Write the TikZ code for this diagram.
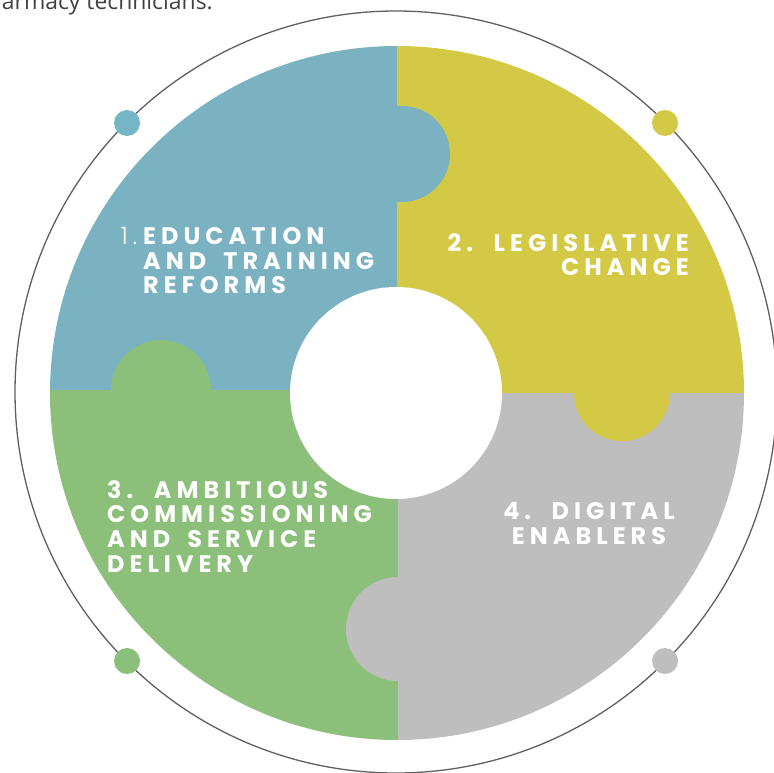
\documentclass[tikz,border=0pt]{standalone}
\usepackage{fontspec}
\usepackage{tikz}
\setmainfont{Open Sans}
\newfontfamily\puzzlefont[LetterSpace=21, WordSpace=1.7]{Poppins}
\newfontfamily\thinfont[LetterSpace=21]{Poppins Light}

\definecolor{pblue}{RGB}{122,178,194}
\definecolor{pyellow}{RGB}{212,201,68}
\definecolor{pgreen}{RGB}{140,192,122}
\definecolor{pgray}{RGB}{190,190,190}
\definecolor{ringgray}{RGB}{95,95,95}

\tikzset{
	piece/.style={font=\puzzlefont\bfseries\fontsize{24}{24.8}\selectfont, text=white, inner sep=0pt},
	dot/.style={radius=13}
}

\begin{document}
\begin{tikzpicture}[x=1bp,y=-1bp]
\useasboundingbox (0,0) rectangle (773,773);
		\coordinate (O) at (397,393);
		\coordinate (P) at (396,392);
		\coordinate (H) at (396,393);
		\coordinate (A) at (143,227);
		\coordinate (B) at (689,233);
		\coordinate (C) at (107,480);
		\coordinate (D) at (589,502);
		\coordinate (T) at (213,10);
		% the four pieces, cut to the disc
		\begin{scope}
		\clip (O) circle (347);
		\fill[pblue] (0,0) rectangle (397,390);
		\fill[pyellow] (397,0) rectangle (773,393);
		\fill[pgreen] (0,390) rectangle (398,773);
		\fill[pgray] (398,393) rectangle (773,773);
		% tabs
		\fill[pblue] (402,154) circle (48);
		\fill[pgreen] (161,390) circle (50);
		\fill[pyellow] (622,393) circle (48);
		\fill[pgray] (398,629) circle (52);
		\end{scope}
		\fill[white] (H) circle (106);
		% ring and its dots
		\draw[ringgray, line width=1.3bp] (P) circle (381);
		\fill[pblue!95!cyan] (127,123) circle[dot];
		\fill[pyellow] (665,123) circle[dot];
		\fill[pgreen] (127,661) circle[dot];
		\fill[pgray] (665,661) circle[dot];
		% labels
		\draw (A) node[piece, anchor=north west, align=left] (edu) {\llap{\thinfont\mdseries 1.\hspace{6bp}}EDUCATION\\AND TRAINING\\REFORMS};
		\draw (B) node[piece, anchor=north east, align=right] (leg) {2. LEGISLATIVE\\CHANGE};
		\draw (C) node[piece, anchor=north west, align=left] (amb) {3. AMBITIOUS\\COMMISSIONING\\AND SERVICE\\DELIVERY};
		\draw (D) node[piece, anchor=north, align=center] (dig) {4. DIGITAL\\ENABLERS};
		\draw (T) node[anchor=base east, inner sep=0pt, text=black!75, font=\fontsize{23}{25}\selectfont] (tail) {pharmacy technicians.};
\end{tikzpicture}
\end{document}
